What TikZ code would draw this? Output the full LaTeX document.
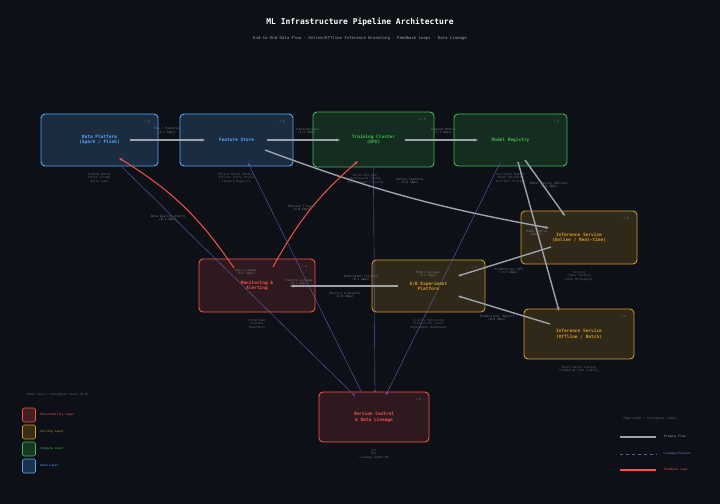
\documentclass[tikz,border=0pt]{standalone}
\usepackage{fontspec}
\setmonofont{DejaVu Sans Mono}
\usepackage{tikz}
\usetikzlibrary{arrows.meta, positioning}
\definecolor{bgc}{HTML}{0D1117}
\definecolor{blu}{HTML}{58A6FF}
\definecolor{grn}{HTML}{3FB950}
\definecolor{ylw}{HTML}{D29922}
\definecolor{rd}{HTML}{F85149}
\definecolor{lin}{HTML}{5A5FB0}
\definecolor{flo}{HTML}{9DA3AA}
\definecolor{dim}{HTML}{5C636B}
\begin{document}
\begin{tikzpicture}[x=1bp,y=-1bp,font=\ttfamily]
\tikzset{box/.style = {draw, rounded corners=4bp, line width=0.9bp, align=center, font=\ttfamily\bfseries\fontsize{4.5}{5.5}\selectfont},
  dat/.style = {box, draw=blu, fill=blu!18!bgc, text=blu},
  cmp/.style = {box, draw=grn, fill=grn!16!bgc, text=grn},
  srv/.style = {box, draw=ylw, fill=ylw!18!bgc, text=ylw},
  obs/.style = {box, draw=rd, fill=rd!14!bgc, text=rd},
  tiny/.style = {font=\ttfamily\fontsize{3}{3.6}\selectfont, text=dim, align=center},
  elab/.style = {tiny, text=flo!70!bgc},
  flow/.style = {-{Stealth[length=4bp]}, draw=flo, line width=1.4bp},
  fat/.style = {flow, line width=2.2bp},
  feed/.style = {-{Stealth[length=4bp]}, draw=rd, line width=1bp},
  lineage/.style = {-{Stealth[length=3bp]}, draw=lin, line width=0.4bp}}
\fill[bgc] (0,0) rectangle (720,504);
\useasboundingbox (0,0) rectangle (720,504);
            % title
\node[text=white, font=\ttfamily\bfseries\fontsize{8}{9}\selectfont] (title) at (360,22) {ML Infrastructure Pipeline Architecture};
\node[tiny, text=flo, font=\ttfamily\fontsize{4}{5}\selectfont] (sub) at (360,38) {End-to-End Data Flow · Online/Offline Inference Branching · Feedback Loops · Data Lineage};
            % vertices
\node[dat, minimum width=117bp, minimum height=52bp] (dp) at (99.5,140) {Data Platform\\(Spark / Flink)};
\node[dat, minimum width=113bp, minimum height=52bp] (fs) at (236.5,140) {Feature Store};
\node[cmp, minimum width=121bp, minimum height=55bp] (tc) at (373.5,139.5) {Training Cluster\\(GPU)};
\node[cmp, minimum width=113bp, minimum height=52bp] (mr) at (510.5,140) {Model Registry};
\node[srv, minimum width=116bp, minimum height=53bp] (io) at (579,237.5) {Inference Service\\(Online / Real-time)};
\node[obs, minimum width=116bp, minimum height=53bp] (mon) at (257,285.5) {Monitoring \&\\Alerting};
\node[srv, minimum width=113bp, minimum height=52bp] (ab) at (428.5,286) {A/B Experiment\\Platform};
\node[srv, minimum width=110bp, minimum height=50bp] (iof) at (579,334) {Inference Service\\(Offline / Batch)};
\node[obs, minimum width=110bp, minimum height=50bp] (vc) at (374,417) {Version Control\\\& Data Lineage};
            % corner tags
\foreach \n/\t in {dp/1.0, fs/2.0, tc/12.0, mr/1.0, io/1.0, mon/1.0, ab/1.0, iof/1.0, vc/1.0}
  \node[tiny, anchor=north east] at ([xshift=-5bp,yshift=-3bp]\n.north east) {\t};
            % sub-labels
\node[tiny, below=3bp of dp] {Hadoop Batch\\Kafka Stream\\Delta Lake};
\node[tiny, below=3bp of fs] {Online Store (Redis)\\Offline Store (Hive)\\Feature Registry};
\node[tiny, below=3bp of tc, xshift=-8bp] {Multi-GPU Pool\\Hyperparam Tuning\\Distributed Training};
\node[tiny, below=3bp of mr] {Versioned Models\\Model Metadata\\Artifact Storage};
\node[tiny, below=3bp of io] {Serving\\<10ms latency\\High throughput};
\node[tiny, below=3bp of mon] {Prometheus\\Grafana\\PagerDuty};
\node[tiny, below=3bp of ab] {Traffic Splitting\\Statistical Tests\\Experiment Dashboard};
\node[tiny, below=3bp of iof] {Spark batch scoring\\Scheduled jobs nightly};
\node[tiny, below=3bp of vc] {Git\\DVC\\Lineage Graph DB};
            % lineage edges
\coordinate (v1) at (355,396); \coordinate (v2) at (362,393);
\coordinate (v3) at (375,393); \coordinate (v4) at (386,395);
\draw[lineage] (dp.south) ++(22,0) -- (v1);
\draw[lineage] (v2) -- (248,163);
\draw[lineage] (tc.south) -- (v3);
\draw[lineage] (500,163) -- (v4);
            % edges
\draw[fat] (130,140) -- (205,140);
\draw[flow] (267,140) -- (340,140);
\draw[flow] (405,140) -- (478,140);
\draw[flow] (265,150) to[bend right=5] (549,228);
\draw[flow] (525,160) -- (565,216);
\draw[flow] (518,162) -- (559,311);
\draw[flow] (551,247) -- (458,276);
\draw[flow] (550,324) -- (458,296);
\draw[flow] (398,286) -- (290,286);
\draw[feed] (234,268) to[bend right=12] (119,158);
\draw[feed] (273,267) to[bend left=10] (358,161);
            % edge labels
\node[elab] at (167,131) {Raw / Features\\(2.1 Gbps)};
\node[elab] at (307,131) {Training Data\\(4.2 Gbps)};
\node[elab] at (443,131) {Trained Models\\(1.1 Gbps)};
\node[elab] at (410,181) {Online Features\\(0.8 Gbps)};
\node[elab] at (549,185) {Model Deploy (Online)\\(1.9 Gbps)};
\node[elab] at (537,233) {Model Deploy\\(Batch)};
\node[elab] at (509,271) {Predictions (RT)\\(2.3 Gbps)};
\node[elab] at (497,318) {Predictions (Batch)\\(0.8 Gbps)};
\node[elab] at (361,278) {Experiment Tracking\\(0.1 Gbps)};
\node[elab] at (345,295) {Metrics \& Results\\(2.0 Gbps)};
\node[elab] at (168,218) {Data Quality Alerts\\(0.1 Gbps)};
\node[elab] at (302,208) {Retrain Trigger\\(0.0 Gbps)};
\node[elab] at (246,272) {Data Lineage\\(0.2 Gbps)};
\node[elab] at (299,282) {Feature Lineage\\(0.1 Gbps)};
\node[elab] at (428,274) {Model Lineage\\(0.1 Gbps)};
            % legend left
\node[tiny, anchor=west] (lt) at (24,395) {Node size = throughput share (0.0)};
\foreach \c/\t [count=\i] in {rd/Observability Layer, ylw/Serving Layer, grn/Compute Layer, blu/Data Layer} {
  \node[draw=\c, fill=\c!22!bgc, rounded corners=1.5bp, line width=0.7bp, minimum width=13bp, minimum height=14bp] (lg\i) at (29,398+\i*17) {};
  \node[tiny, text=\c, right=1bp of lg\i] {\t};
}
            % legend right
\node[tiny, anchor=west] (rt) at (620,419) {Edge width = throughput (Gbps)};
\coordinate (a1) at (620,437); \coordinate (b1) at (656,437);
\coordinate (a2) at (620,454); \coordinate (b2) at (656,454);
\coordinate (a3) at (620,470); \coordinate (b3) at (656,470);
\draw[flo, line width=1.2bp] (a1) -- (b1) node[tiny, text=flo, right=4bp] {Primary Flow};
\draw[lin, line width=0.6bp, dashed] (a2) -- (b2) node[tiny, text=lin!80!white, right=4bp] {Lineage/Version};
\draw[rd, line width=1.2bp] (a3) -- (b3) node[tiny, text=rd, right=4bp] {Feedback Loop};
\end{tikzpicture}
\end{document}
